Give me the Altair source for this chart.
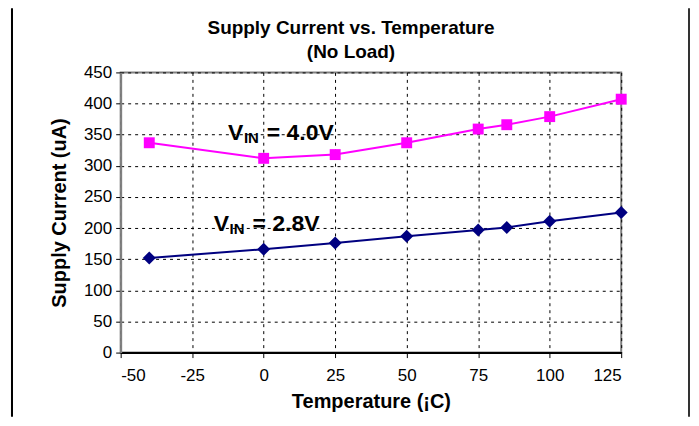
import altair as alt
import pandas as pd

temps_40 = [-40, 0, 25, 50, 75, 85, 100, 125]
vals_40 = [337, 312, 318, 337, 359, 366, 379, 407]
temps_28 = [-40, 0, 25, 50, 75, 85, 100, 125]
vals_28 = [152, 166, 176, 187, 197, 201, 211, 225]
series = ["VIN = 4.0V", "VIN = 2.8V"]
colors = ["#FF00FF", "#000080"]
shapes = ["square", "diamond"]
sizes = [120, 170]

x_ticks = [-50, -25, 0, 25, 50, 75, 100, 125]
y_ticks = [0, 50, 100, 150, 200, 250, 300, 350, 400, 450]

title_lines = ["Supply Current vs. Temperature", "(No Load)"]

# annotation labels (data coords of the left/baseline of the "V")
ann_x = [-12.5, -17.5]
ann_y = [342, 195]
ann_rest = ["= 4.0V", "= 2.8V"]

FONT = "Liberation Sans"

df = pd.DataFrame({
    "temp": temps_40 + temps_28,
    "cur": vals_40 + vals_28,
    "series": [series[0]] * len(temps_40) + [series[1]] * len(temps_28),
})
ann = pd.DataFrame({"x": ann_x, "y": ann_y, "rest": ann_rest, "v": ["V", "V"], "sub": ["IN", "IN"]})

xs = alt.Scale(domain=[-50, 125], nice=False, zero=False)
ys = alt.Scale(domain=[0, 450], nice=False)
color = alt.Color("series:N", scale=alt.Scale(domain=series, range=colors), legend=None)

xaxis = alt.Axis(values=x_ticks, title="Temperature  (¡C)", grid=True,
                 labelExpr="'' + datum.value")
yaxis = alt.Axis(values=y_ticks, title="Supply Current (uA)", grid=True,
                 labelExpr="'' + datum.value")

base = alt.Chart(df)
lines = base.mark_line(strokeWidth=2).encode(
    x=alt.X("temp:Q", scale=xs, axis=xaxis),
    y=alt.Y("cur:Q", scale=ys, axis=yaxis),
    color=color,
)
pts = base.mark_point(filled=True, opacity=1).encode(
    x=alt.X("temp:Q", scale=xs, axis=xaxis),
    y=alt.Y("cur:Q", scale=ys, axis=yaxis),
    color=color,
    shape=alt.Shape("series:N", scale=alt.Scale(domain=series, range=shapes), legend=None),
    size=alt.Size("series:N", scale=alt.Scale(domain=series, range=sizes), legend=None),
)

abase = alt.Chart(ann)
t_v = abase.mark_text(align="left", baseline="alphabetic", font=FONT, fontWeight="bold",
                      fontSize=23, color="black").encode(
    x=alt.X("x:Q", scale=xs, axis=xaxis), y=alt.Y("y:Q", scale=ys, axis=yaxis), text="v:N")
t_sub = abase.mark_text(align="left", baseline="alphabetic", font=FONT, fontWeight="bold",
                        fontSize=15, color="black", dx=16, dy=3).encode(
    x=alt.X("x:Q", scale=xs, axis=xaxis), y=alt.Y("y:Q", scale=ys, axis=yaxis), text="sub:N")
t_rest = abase.mark_text(align="left", baseline="alphabetic", font=FONT, fontWeight="bold",
                         fontSize=23, color="black", dx=39).encode(
    x=alt.X("x:Q", scale=xs, axis=xaxis), y=alt.Y("y:Q", scale=ys, axis=yaxis), text="rest:N")

tdf = pd.DataFrame({"t": title_lines})
title1 = alt.Chart(tdf.iloc[[0]]).mark_text(font=FONT, fontSize=19, fontWeight="bold", color="black",
                                            baseline="middle", align="center").encode(
    x=alt.value(231), y=alt.value(-45), text="t:N")
title2 = alt.Chart(tdf.iloc[[1]]).mark_text(font=FONT, fontSize=19, fontWeight="bold", color="black",
                                            baseline="middle", align="center").encode(
    x=alt.value(231), y=alt.value(-20), text="t:N")

frame_l = alt.Chart(ann).mark_rule(color="black", strokeWidth=2).encode(
    x=alt.value(-109), y=alt.value(-64), y2=alt.value(345))
frame_r = alt.Chart(ann).mark_rule(color="#333333", strokeWidth=2).encode(
    x=alt.value(570), y=alt.value(-64), y2=alt.value(345))

chart = alt.layer(frame_l, frame_r, lines, pts, t_v, t_sub, t_rest, title1, title2).properties(
    width=502,
    height=281,
    autosize=alt.AutoSizeParams(type="none"),
    padding={"left": 113, "top": 64, "right": 70, "bottom": 64},
).configure_view(
    stroke="#808080", strokeWidth=2
).configure_axis(
    labelFont=FONT, labelFontSize=17, labelColor="black", labelOverlap=False,
    titleFont=FONT, titleFontSize=20, titleFontWeight="bold", titleColor="black",
    gridColor="black", gridDash=[3, 4], gridWidth=1, gridOpacity=1,
    tickColor="black", tickSize=5, domainColor="#808080", domainWidth=2,
    labelPadding=4,
).configure_axisX(
    domainColor="black", titlePadding=8, labelPadding=10,
).configure_axisY(
    titlePadding=14,
)

chart.save("out.html", embed_options={"renderer": "svg", "actions": False})
